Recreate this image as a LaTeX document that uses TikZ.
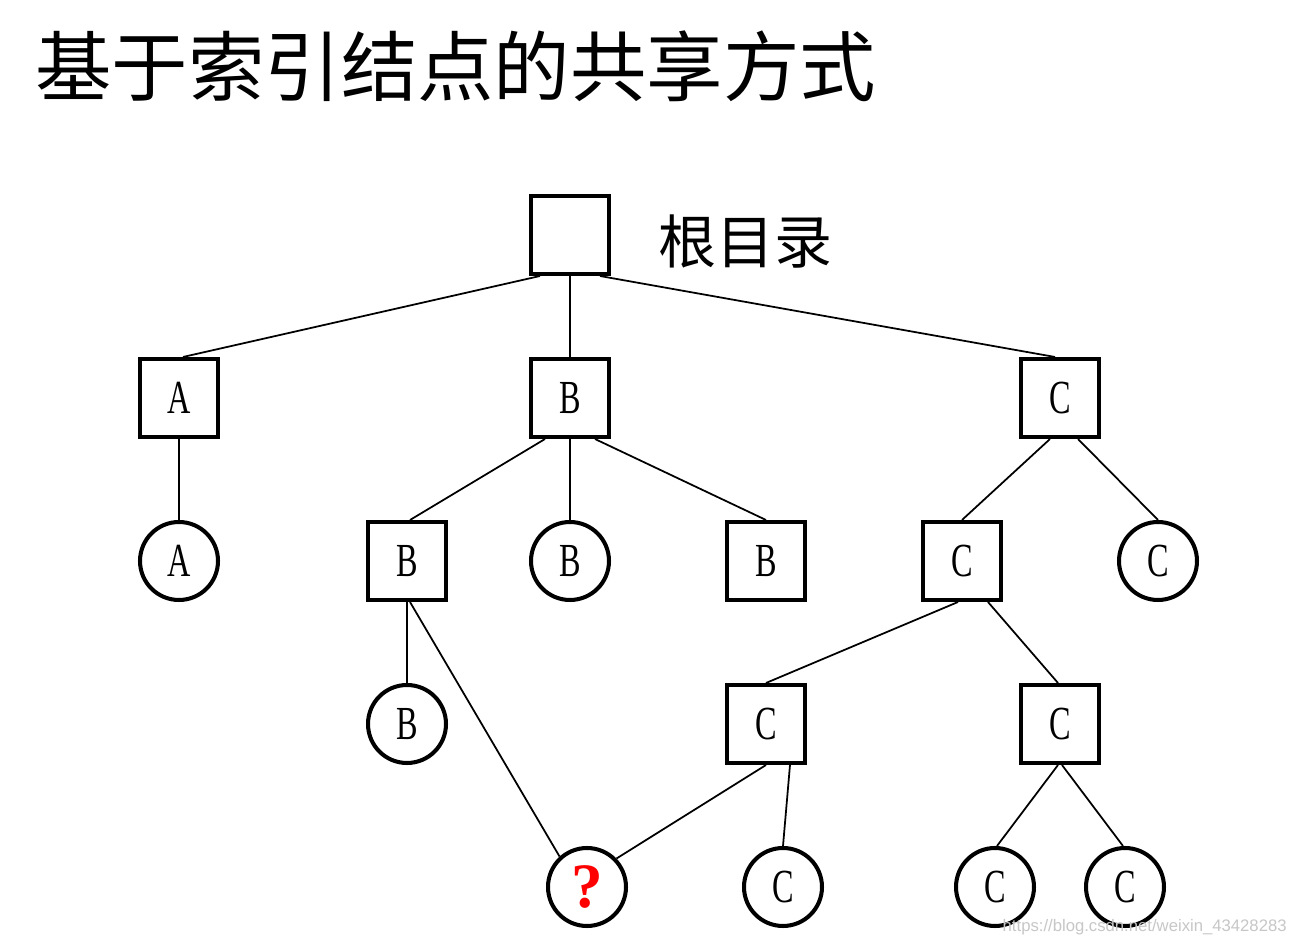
\documentclass[tikz,border=0pt]{standalone}
\usepackage{fontspec}
\usepackage{tikz}
\setmainfont{Liberation Serif}
\newfontfamily\cjk{Noto Sans CJK SC}
\newfontfamily\letterFont[FakeStretch=0.68]{Liberation Serif}
\newfontfamily\markFont{Liberation Sans}
\usetikzlibrary{positioning}
\tikzstyle{canvas} = [x = 0.02cm, y = -0.02cm]
\tikzstyle{dirBox} = [draw, rectangle, line width = 2.3pt, minimum size = 1.56cm, inner sep = 0pt, font = \letterFont\fontsize{27}{27}\selectfont]
\tikzstyle{fileCircle} = [draw, circle, line width = 2.3pt, minimum size = 1.56cm, inner sep = 0pt, font = \letterFont\fontsize{27}{27}\selectfont]
\tikzstyle{treeLine} = [line width = 1pt]
\tikzstyle{titleText} = [anchor = west, inner sep = 0pt, font = \cjk\fontsize{43.5}{43.5}\selectfont]
\tikzstyle{rootText} = [anchor = west, inner sep = 0pt, font = \cjk\fontsize{33}{33}\selectfont]
\tikzstyle{unknownText} = [text = red, font = \bfseries\fontsize{36}{36}\selectfont]
\newcommand{\dirNode}[4]{\node [dirBox] (#1) at (#2, #3) {#4};}
\newcommand{\fileNode}[4]{\node [fileCircle] (#1) at (#2, #3) {#4};}

\begin{document}
\begin{tikzpicture}[canvas]
  \fill [white] (0, 0) rectangle (1296, 945);
  \useasboundingbox (0, 0) rectangle (1296, 945);

  % title and root label
  \node [titleText] (title) at (35, 66) {基于索引结点的共享方式};
  \node [rootText] (rootLabel) at (658, 242) {根目录};

  % directories
  \dirNode{root}{570}{235}{}
  \dirNode{dirA}{179}{398}{A}
  \dirNode{dirB}{570}{398}{B}
  \dirNode{dirC}{1060}{398}{C}
  \dirNode{dirBB}{407}{561}{B}
  \dirNode{dirBBB}{766}{561}{B}
  \dirNode{dirCC}{962}{561}{C}
  \dirNode{dirCCL}{766}{724}{C}
  \dirNode{dirCCR}{1060}{724}{C}

  % files
  \fileNode{fileA}{179}{561}{A}
  \fileNode{fileB}{570}{561}{B}
  \fileNode{fileC}{1158}{561}{C}
  \fileNode{fileBB}{407}{724}{B}
  \node [fileCircle] (shared) at (587, 887) {};
  \node [unknownText] (sharedMark) at (shared.center) {?};
  \fileNode{fileCL}{783}{887}{C}
  \fileNode{fileCRL}{995}{887}{C}
  \fileNode{fileCRR}{1125}{887}{C}

  % links
  \draw [treeLine] ([xshift = -30 * 0.02cm] root.south) -- ([xshift = 4 * 0.02cm] dirA.north);
  \draw [treeLine] (root.south) -- (dirB.north);
  \draw [treeLine] ([xshift = 30 * 0.02cm] root.south) -- ([xshift = -5 * 0.02cm] dirC.north);
  \draw [treeLine] (dirA.south) -- (fileA.north);
  \draw [treeLine] ([xshift = -25 * 0.02cm] dirB.south) -- ([xshift = 3 * 0.02cm] dirBB.north);
  \draw [treeLine] (dirB.south) -- (fileB.north);
  \draw [treeLine] ([xshift = 25 * 0.02cm] dirB.south) -- (dirBBB.north);
  \draw [treeLine] ([xshift = -10 * 0.02cm] dirC.south) -- (dirCC.north);
  \draw [treeLine] ([xshift = 18 * 0.02cm] dirC.south) -- (fileC.north);
  \draw [treeLine] (dirBB.south) -- (fileBB.north);
  \draw [treeLine] ([xshift = 3 * 0.02cm] dirBB.south) -- (shared.132);
  \draw [treeLine] ([xshift = -4 * 0.02cm] dirCC.south) -- (dirCCL.north);
  \draw [treeLine] ([xshift = 26 * 0.02cm] dirCC.south) -- ([xshift = -2 * 0.02cm] dirCCR.north);
  \draw [treeLine] (dirCCL.south) -- (shared.44);
  \draw [treeLine] ([xshift = 24 * 0.02cm] dirCCL.south) -- (fileCL.north);
  \draw [treeLine] ([xshift = -2 * 0.02cm] dirCCR.south) -- ([xshift = 2 * 0.02cm] fileCRL.north);
  \draw [treeLine] ([xshift = 2 * 0.02cm] dirCCR.south) -- ([xshift = -2 * 0.02cm] fileCRR.north);

  % watermark
  \node [anchor = east, inner sep = 0pt, text = black!22, font = \markFont\fontsize{9.5}{9.5}\selectfont] (mark) at (1287, 927) {https://blog.csdn.net/weixin\_43428283};
\end{tikzpicture}
\end{document}
